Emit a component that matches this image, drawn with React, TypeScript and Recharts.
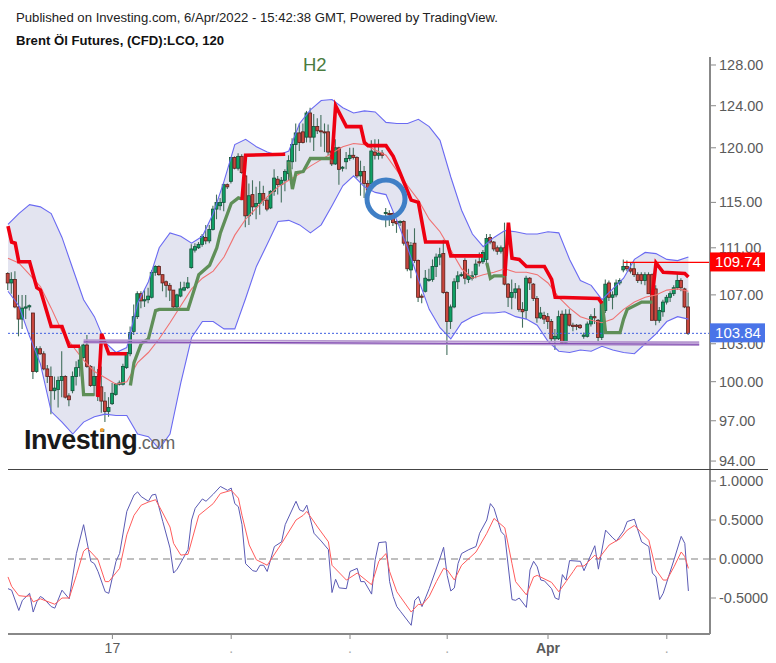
import React from 'react'
import { ComposedChart, Bar, Line, Area, XAxis, YAxis, ReferenceLine, ReferenceDot } from 'recharts'

// ---- price panel: 2h candles ----
const opens: number[] = [
  108.8,108.0,108.3,106.0,105.0,105.9,106.0,105.5,100.8,102.6,102.2,101.0,100.4,99.3,99.4,100.1,100.4,98.9,99.3,100.4,
  101.1,101.9,102.9,101.2,99.7,100.4,99.6,98.5,97.7,98.3,99.0,99.8,99.8,101.1,102.2,104.0,105.2,107.1,106.5,106.6,
  106.8,108.9,109.4,108.7,108.1,107.8,107.4,106.0,106.9,107.4,107.6,109.3,110.8,111.0,111.3,111.9,111.6,112.6,114.4,114.7,
  115.0,116.6,116.9,119.1,118.1,119.2,117.4,113.8,115.7,114.6,114.9,115.8,115.2,114.5,116.0,117.1,116.6,117.0,117.6,118.7,
  120.3,121.4,121.5,121.0,123.3,121.0,122.0,121.6,121.5,121.5,119.7,118.5,120.0,118.1,118.7,119.0,119.3,119.1,117.4,117.8,
  116.7,116.7,119.6,119.3,119.5,114.0,114.0,114.0,113.3,113.2,113.3,111.5,109.1,111.4,109.9,106.9,107.3,108.3,108.3,109.4,
  110.2,110.5,107.2,104.8,106.0,108.1,108.7,109.9,108.3,108.4,108.7,109.8,109.8,110.0,111.9,111.5,111.0,110.7,111.0,107.9,
  106.8,107.2,107.5,105.8,105.7,108.4,107.9,106.7,105.1,105.3,105.2,104.8,103.4,103.4,105.4,103.1,105.4,104.5,104.5,104.5,
  103.6,103.6,104.6,105.2,104.9,103.5,105.7,108.0,106.8,107.0,108.0,109.1,109.4,109.2,109.2,108.7,108.7,108.2,108.7,108.7,
  107.5,104.9,105.6,106.4,106.8,107.1,107.6,108.2,107.5,106.0,
]
const highs: number[] = [
  108.9,108.9,109.0,107.0,107.0,107.0,106.2,105.5,102.8,102.8,102.4,101.3,101.2,100.4,100.4,102.4,100.5,99.1,100.8,101.6,
  102.3,103.0,103.7,101.3,101.2,101.0,101.2,99.2,98.8,99.9,99.9,100.1,101.4,102.3,104.4,106.2,107.3,107.3,107.4,107.6,
  109.1,109.5,109.5,108.7,108.2,108.0,107.4,107.1,108.1,108.1,108.5,111.3,111.4,111.5,112.2,113.0,113.0,114.7,115.7,115.4,
  116.7,116.7,119.1,119.2,119.5,119.4,117.5,116.7,117.0,116.4,116.9,116.5,115.4,116.1,118.0,117.4,117.3,118.0,119.3,120.9,
  122.3,122.3,122.3,123.5,123.8,123.2,122.8,123.1,122.3,122.2,119.9,120.8,120.1,118.3,119.6,120.0,120.0,119.2,118.8,118.3,
  117.0,120.7,120.8,120.8,119.8,114.5,114.3,114.1,113.4,113.4,113.4,112.6,111.5,112.7,110.0,107.1,109.1,109.2,110.0,110.5,
  111.0,111.7,107.3,106.2,108.4,109.0,108.9,110.1,109.2,109.0,110.0,110.6,110.8,112.2,112.2,111.6,111.2,111.2,113.2,108.0,
  108.3,108.0,107.8,106.4,108.6,108.5,108.0,106.9,106.0,105.6,105.5,105.0,104.2,105.7,105.7,105.8,105.8,104.7,104.6,104.6,
  103.9,104.8,105.4,105.9,105.0,106.5,108.3,108.2,107.3,108.3,108.4,110.0,109.9,109.7,109.7,108.9,108.9,108.9,108.9,108.8,
  107.8,106.0,106.6,107.0,107.3,107.8,108.8,108.4,107.6,107.2,
]
const lows: number[] = [
  107.4,107.1,105.9,103.6,104.2,105.0,105.7,100.2,100.7,102.1,100.9,99.9,97.5,98.6,98.0,98.8,98.7,98.1,99.1,99.7,
  100.4,101.8,101.1,99.6,98.9,98.5,97.6,96.9,97.3,98.2,98.9,99.7,99.7,101.0,102.0,103.7,105.0,105.9,106.0,106.3,
  106.7,108.6,108.6,107.3,106.8,106.5,105.9,105.9,106.8,107.3,107.5,109.2,110.6,110.9,111.1,111.3,111.4,112.5,113.5,114.3,
  114.2,116.2,116.7,118.0,117.9,117.6,112.8,113.0,113.9,113.5,113.9,114.7,114.2,114.4,115.6,115.7,115.0,116.0,117.0,118.0,
  118.7,119.7,120.4,120.5,120.5,119.7,121.3,120.1,119.6,119.3,118.3,118.4,116.6,117.8,118.0,118.8,118.9,117.2,115.6,115.4,
  114.9,116.1,118.9,118.9,119.0,112.8,112.9,112.9,112.3,112.9,111.2,109.0,108.4,109.7,106.4,106.3,107.2,108.1,108.1,108.5,
  109.5,107.1,102.1,104.2,105.9,107.5,108.5,107.9,108.0,108.2,108.4,109.4,109.6,109.7,111.3,110.7,110.4,110.5,107.8,106.0,
  105.8,106.7,105.6,104.3,105.0,107.4,106.5,104.7,105.0,104.6,104.2,103.2,102.5,103.3,103.0,103.0,104.4,104.0,104.1,104.2,
  103.4,103.5,104.4,104.6,103.2,103.3,105.5,106.5,105.8,106.8,107.8,108.9,109.0,108.8,108.5,108.0,107.9,107.8,107.8,107.0,
  104.5,104.7,105.2,106.2,106.4,106.9,107.4,107.3,105.9,103.7,
]
const closes: number[] = [
  108.0,108.3,106.0,105.0,105.9,106.0,106.1,100.8,102.6,102.2,101.0,100.4,99.3,99.5,100.1,100.4,98.8,98.6,100.4,101.1,
  101.7,102.9,101.2,99.7,100.4,98.9,98.5,97.7,98.0,99.1,99.8,99.9,101.2,102.3,103.9,105.2,107.1,106.5,106.6,106.9,
  108.9,109.4,108.7,108.0,107.8,107.4,106.0,107.0,107.5,107.6,108.0,110.9,111.1,111.3,112.0,111.6,112.6,114.4,115.0,115.0,
  116.6,116.4,119.1,118.1,119.2,117.7,113.8,115.6,114.6,114.9,115.8,115.2,114.4,116.0,117.2,116.6,117.0,117.8,118.8,120.3,
  121.4,120.5,120.5,123.3,121.0,122.0,121.6,121.5,121.4,119.6,118.5,120.0,118.0,118.2,119.0,119.3,119.1,117.4,117.8,116.7,
  116.1,119.7,119.3,119.5,119.3,114.1,113.9,113.2,113.1,113.3,111.4,109.2,111.2,109.9,106.8,106.8,108.4,108.3,109.4,110.2,
  110.4,107.2,104.8,106.0,108.1,108.6,108.7,108.4,108.6,108.6,109.6,109.7,110.6,111.8,111.5,110.9,110.7,111.0,107.9,106.8,
  107.2,107.5,105.8,105.6,108.4,108.0,106.7,105.1,105.5,105.0,104.8,103.4,103.6,105.2,103.1,105.4,104.5,104.4,104.4,104.3,
  103.7,104.6,105.2,105.1,103.5,106.3,107.9,106.8,107.0,108.0,108.2,109.4,109.2,109.0,108.7,108.2,108.2,108.7,107.1,104.9,
  104.9,105.7,106.4,106.8,107.1,107.6,108.2,107.6,106.0,103.84,
]
const candles = opens.map((open, i) => ({ i, open, high: highs[i], low: lows[i], close: closes[i] }))

// Bollinger bands, one reading every third candle
const bandStep = 3
const upperBand: number[] = [
  113.05,114.0,114.8,114.6,114.0,111.9,109.2,106.6,105.2,103.1,102.3,102.7,106.3,108.1,111.0,112.3,112.0,111.4,112.0,114.0,116.9,
  120.3,120.8,120.1,119.6,119.3,119.7,122.3,123.6,124.5,124.6,123.8,123.3,123.5,123.4,122.4,122.3,122.3,122.7,122.0,120.7,117.3,114.3,
  112.2,111.1,111.9,112.5,112.4,112.2,112.2,112.4,112.3,110.0,108.2,107.8,106.6,107.5,108.4,110.0,110.6,110.5,110.0,109.9,110.2,
]
const lowerBand: number[] = [
  107.3,106.1,103.6,101.4,97.7,96.9,96.0,96.9,97.3,97.5,97.4,97.4,96.0,95.8,94.9,96.0,99.9,103.5,104.8,104.8,104.2,
  104.2,106.7,109.4,111.3,113.3,113.4,113.0,112.3,113.0,114.7,116.5,117.4,116.4,115.9,115.7,113.4,111.0,108.3,105.8,104.3,103.4,104.7,
  105.2,105.5,105.5,105.6,105.2,105.0,104.5,103.2,102.4,102.3,102.5,102.4,102.8,102.5,102.3,102.2,103.0,103.8,104.8,105.2,105.0,
]
const midBand: number[] = [
  110.1,109.7,108.7,107.7,105.9,104.0,102.8,101.7,100.8,100.3,99.8,100.0,101.5,102.3,103.4,104.7,106.1,107.5,108.4,109.0,110.2,
  112.1,113.5,114.5,115.5,116.4,117.0,117.6,118.3,118.9,119.5,120.1,120.4,120.3,119.8,119.3,117.9,116.5,115.2,113.5,112.4,110.8,109.2,
  108.4,108.7,108.9,109.2,108.9,108.9,108.7,108.0,106.8,105.9,105.2,104.9,104.7,105.0,105.8,106.4,106.8,107.0,107.4,107.5,107.3,
]
const bandRows = upperBand.map((upper, k) => ({ i: k * bandStep, upper, lower: lowerBand[k], mid: midBand[k] }))

// trend stop, [candle, price]: red while falling, green while rising
const redStops: number[][][] = [
  [[0,112.9],[1,111.5],[2,111.4],[3,109.8],[6,109.8],[8,107.6],[9,107.4],[12,104.4],[15,104.4],[17,102.8],[20,102.8]],
  [[25,98.8],[26,103.8],[28,102.2],[33,102.2]],
  [[65,115.2],[66,119.3],[77,119.4]],
  [[90,118.9],[91,124.0],[94,122.0],[98,122.0],[99,120.5],[100,120.2],[105,120.2],[107,119.2],[109,117.6],[112,115.2],[114,115.0],[116,111.5],[122,111.5],[123,110.3],[132,110.3]],
  [[138,108.6],[139,113.2],[140,110.1],[142,110.0],[144,109.4],[149,109.4],[151,108.3],[152,106.8],[164,106.7],[165,106.3]],
  [[179,107.0],[180,109.7],[182,108.9],[188,108.8],[189,108.5]],
]
const greenStops: number[][][] = [
  [[20,102.8],[21,99.0],[24,99.0]],
  [[34,99.7],[35,101.5],[37,103.0],[39,103.4],[41,105.7],[42,105.8],[50,105.8],[52,107.7],[53,108.7],[56,109.5],[58,111.0],[59,112.3],[62,114.9],[64,115.4],[65,115.3]],
  [[78,118.7],[79,116.2],[80,117.7],[82,117.8],[84,119.0],[90,119.0]],
  [[133,109.7],[134,108.4],[135,108.6],[138,108.6]],
  [[165,106.5],[166,103.9],[170,103.9],[171,105.0],[172,105.8],[176,106.4],[179,106.4]],
]

const priceTicks = [128, 124, 120, 115, 111, 107, 103, 100, 97, 94]
const lastPrice = 103.84
const stopPrice = 109.74

// ---- oscillator panel, [candle, value] ----
const oscFast: number[][] = [
  [0,-0.38],[1,-0.40],[3,-0.66],[4,-0.53],[6,-0.44],[7,-0.68],[8,-0.55],[9,-0.48],[10,-0.51],[12,-0.61],[13,-0.63],[15,-0.40],[17,-0.51],[19,0.07],[21,0.44],[23,-0.03],[24,-0.06],[25,-0.16],[27,-0.42],[28,-0.44],
  [30,-0.03],[31,0.07],[33,0.61],[35,0.82],[36,0.86],[37,0.80],[39,0.74],[40,0.82],[41,0.83],[43,0.48],[45,0.14],[46,-0.18],[47,-0.13],[50,0.12],[51,0.50],[52,0.65],[54,0.77],[55,0.74],[57,0.83],[59,0.93],
  [61,0.88],[62,0.91],[63,0.71],[64,0.67],[65,0.44],[66,-0.06],[68,-0.15],[69,-0.16],[70,-0.08],[71,-0.08],[72,-0.16],[74,0.16],[76,0.22],[77,0.44],[80,0.74],[81,0.63],[82,0.61],[83,0.69],[85,0.33],[87,0.23],
  [89,0.12],[90,-0.43],[91,-0.26],[92,-0.37],[94,-0.38],[95,-0.16],[97,-0.12],[98,-0.29],[99,-0.29],[101,-0.45],[102,-0.01],[103,0.21],[105,0.22],[106,-0.29],[107,-0.48],[108,-0.61],[109,-0.67],[112,-0.85],[113,-0.53],[114,-0.48],
  [115,-0.61],[117,-0.38],[120,0.01],[121,0.15],[122,-0.21],[123,-0.41],[124,-0.37],[125,-0.06],[126,0.07],[128,0.12],[130,0.16],[131,0.33],[133,0.50],[134,0.71],[135,0.65],[137,0.35],[138,0.30],[140,-0.52],[141,-0.53],[142,-0.50],
  [144,-0.62],[145,-0.14],[146,-0.03],[147,-0.10],[148,-0.27],[149,-0.28],[151,-0.38],[152,-0.50],[153,-0.52],[154,-0.20],[155,-0.27],[156,-0.02],[159,-0.03],[160,-0.15],[163,0.17],[164,-0.13],[166,0.37],[168,0.27],[169,0.23],[171,0.36],
  [172,0.48],[174,0.51],[176,0.22],[178,0.16],[179,-0.18],[180,-0.23],[181,-0.52],[182,-0.44],[185,-0.01],[187,0.29],[188,0.20],[189,-0.41],
]
const oscSlow: number[][] = [
  [0,-0.23],[1,-0.35],[3,-0.47],[5,-0.48],[6,-0.47],[7,-0.55],[9,-0.51],[13,-0.58],[15,-0.50],[17,-0.50],[19,-0.21],[21,0.10],[22,0.14],[25,-0.01],[27,-0.29],[28,-0.29],[31,-0.12],[33,0.31],[35,0.56],[37,0.69],
  [39,0.73],[41,0.76],[43,0.59],[45,0.41],[46,0.20],[48,0.05],[50,0.06],[53,0.56],[57,0.71],[59,0.84],[62,0.88],[64,0.78],[65,0.56],[67,0.18],[69,-0.01],[72,-0.08],[76,0.20],[80,0.50],[82,0.56],[83,0.61],
  [86,0.41],[89,0.22],[90,-0.08],[94,-0.27],[97,-0.18],[101,-0.33],[103,-0.03],[105,0.07],[106,-0.16],[108,-0.42],[112,-0.68],[114,-0.58],[115,-0.59],[117,-0.48],[119,-0.29],[121,-0.12],[122,-0.14],[124,-0.27],[126,-0.08],[130,0.09],
  [133,0.33],[135,0.52],[138,0.40],[140,-0.06],[141,-0.29],[144,-0.46],[146,-0.23],[147,-0.21],[151,-0.30],[153,-0.42],[155,-0.29],[157,-0.16],[158,-0.09],[160,-0.09],[163,0.05],[164,0.00],[167,0.18],[170,0.26],[172,0.37],[174,0.43],
  [178,0.24],[180,-0.14],[182,-0.27],[183,-0.27],[185,-0.10],[187,0.09],[188,0.03],[189,-0.12],
]
const oscTicks = [1, 0.5, 0, -0.5]

const timeTicks = [29, 62, 95, 122, 150, 183]
const timeLabels = ['17', '.', '.', '.', 'Apr', '.']

const FONT = '"Liberation Sans", Arial, sans-serif'
const AXIS = '#888888'
const LABEL = '#5a5a5a'
const xDomain: [number, number] = [0, 195]

const toRows = (pts: number[][]) => pts.map(([i, v]) => ({ i, v }))

const Candle = (props: any) => {
  const { x, y, width, height, payload } = props
  const { open, high, low, close } = payload
  // wick comes from the bar, body is placed along it on the same log scale
  const yOf = (v: number) => y + (height * (Math.log(high) - Math.log(v))) / (Math.log(high) - Math.log(low))
  const up = close >= open
  const top = yOf(Math.max(open, close))
  const bot = yOf(Math.min(open, close))
  return (
    <g>
      <line x1={x + width / 2} x2={x + width / 2} y1={y} y2={y + height} stroke="#44705f" strokeWidth={1.1} />
      <rect x={x} y={top} width={width} height={Math.max(bot - top, 1)} fill={up ? '#0fa064' : '#c8463e'} stroke={up ? '#14503a' : '#5a1f1b'} strokeWidth={0.8} />
    </g>
  )
}

const PriceTick = (props: any) => {
  const { x, y, payload } = props
  const v = payload.value
  if (v === lastPrice || v === stopPrice) {
    return (
      <g>
        <rect x={x - 8} y={y - 10} width={55} height={19} fill={v === stopPrice ? '#ff0000' : '#4a74e8'} />
        <text x={x + 20} y={y + 5} textAnchor="middle" fontFamily={FONT} fontSize={15} fill="#ffffff">{v.toFixed(2)}</text>
      </g>
    )
  }
  return <text x={x + 1} y={y + 5} fontFamily={FONT} fontSize={14.5} fill={LABEL}>{v.toFixed(2)}</text>
}

const OscTick = (props: any) => {
  const { x, y, payload } = props
  return <text x={x + 1} y={y + 5} fontFamily={FONT} fontSize={14.5} fill={LABEL}>{payload.value.toFixed(4)}</text>
}

const TimeTick = (props: any) => {
  const { x, y, payload, index } = props
  const label = timeLabels[index]
  return (
    <text x={x} y={y + 12} textAnchor="middle" fontFamily={FONT} fontSize={14} fontWeight={label === 'Apr' ? 700 : 400} fill={label === '.' ? '#aaaaaa' : LABEL}>
      {label}
    </text>
  )
}

const App: React.FC = () => {
  return (
    <div style={{ position: 'absolute', left: 0, top: 0, width: 776, height: 663, background: '#fff', overflow: 'hidden', fontFamily: FONT }}>
      <div style={{ position: 'absolute', left: 16, top: 10, fontSize: 13.15, color: '#222', whiteSpace: 'nowrap' }}>
        Published on Investing.com, 6/Apr/2022 - 15:42:38 GMT, Powered by TradingView.
      </div>
      <div style={{ position: 'absolute', left: 16, top: 33, fontSize: 13.15, fontWeight: 700, color: '#111', whiteSpace: 'nowrap' }}>
        Brent Öl Futures, (CFD):LCO, 120
      </div>

      <div style={{ position: 'absolute', left: 0, top: 0 }}>
        <ComposedChart width={776} height={470} data={candles} margin={{ top: 57, right: 0, bottom: 1, left: 8 }}>
          <XAxis dataKey="i" type="number" domain={xDomain} hide />
          <YAxis
            orientation="right"
            width={66}
            scale="log"
            domain={[93.42, 128.8]}
            allowDataOverflow
            ticks={[...priceTicks, stopPrice, lastPrice]}
            interval={0}
            tick={<PriceTick />}
            tickSize={6}
            tickLine={{ stroke: AXIS }}
            axisLine={{ stroke: AXIS, strokeWidth: 2 }}
          />
          <Area data={bandRows} dataKey={(d: any) => [d.lower, d.upper]} type="linear" fill="#e3e4f0" fillOpacity={1} stroke="none" isAnimationActive={false} dot={false} activeDot={false} />
          <Line data={bandRows} dataKey="upper" type="linear" stroke="#6a6af2" strokeWidth={1.1} dot={false} activeDot={false} isAnimationActive={false} />
          <Line data={bandRows} dataKey="lower" type="linear" stroke="#6a6af2" strokeWidth={1.1} dot={false} activeDot={false} isAnimationActive={false} />
          <ReferenceLine y={lastPrice} stroke="#3f5fe0" strokeWidth={1} strokeDasharray="2 2" />
          <Bar dataKey={(d: any) => [d.low, d.high]} barSize={3} shape={<Candle />} isAnimationActive={false} />
          <Line data={bandRows} dataKey="mid" type="linear" stroke="#f07272" strokeWidth={1.1} dot={false} activeDot={false} isAnimationActive={false} />
          {greenStops.map((seg, k) => (
            <Line key={'g' + k} data={toRows(seg)} dataKey="v" type="linear" stroke="#5f8f58" strokeWidth={3.3} dot={false} activeDot={false} isAnimationActive={false} />
          ))}
          {redStops.map((seg, k) => (
            <Line key={'r' + k} data={toRows(seg)} dataKey="v" type="linear" stroke="#ee0011" strokeWidth={3.6} dot={false} activeDot={false} isAnimationActive={false} />
          ))}
          <ReferenceLine segment={[{ x: 21, y: 103.3 }, { x: 192, y: 103.12 }]} stroke="#b79ad0" strokeWidth={1.8} ifOverflow="visible" />
          <ReferenceLine segment={[{ x: 21, y: 103.1 }, { x: 192, y: 102.9 }]} stroke="#b79ad0" strokeWidth={1.8} ifOverflow="visible" />
          <ReferenceLine segment={[{ x: 21, y: 103.15 }, { x: 192, y: 102.97 }]} stroke="#7a3fae" strokeWidth={1} ifOverflow="visible" />
          <ReferenceLine segment={[{ x: 171, y: stopPrice }, { x: 195, y: stopPrice }]} stroke="#ff0000" strokeWidth={1.2} ifOverflow="visible" />
          <ReferenceDot x={105} y={115.3} r={19} fill="none" stroke="#3f7fc6" strokeWidth={5} ifOverflow="visible" />
        </ComposedChart>
      </div>

      <div style={{ position: 'absolute', left: 303, top: 54, fontSize: 18.5, color: '#4a7c3f' }}>H2</div>

      <div style={{ position: 'absolute', left: 24, top: 425, fontSize: 27, fontWeight: 700, color: '#1a1a1a', letterSpacing: -0.6, whiteSpace: 'nowrap' }}>
        Investing<span style={{ fontSize: 18, fontWeight: 400, color: '#666', letterSpacing: -0.3 }}>.com</span>
      </div>
      <div style={{ position: 'absolute', left: 100, top: 428, width: 4, height: 4, borderRadius: 2, background: '#f0a030' }} />

      <div style={{ position: 'absolute', left: 8, top: 469, width: 760, height: 1, background: '#444' }} />

      <div style={{ position: 'absolute', left: 0, top: 470 }}>
        <ComposedChart width={776} height={193} margin={{ top: 0, right: 0, bottom: 0, left: 8 }}>
          <XAxis
            dataKey="i"
            type="number"
            domain={xDomain}
            ticks={timeTicks}
            interval={0}
            height={29}
            tick={<TimeTick />}
            tickSize={5}
            tickLine={{ stroke: AXIS }}
            axisLine={{ stroke: AXIS, strokeWidth: 2 }}
          />
          <YAxis
            orientation="right"
            width={66}
            domain={[-0.9615, 1.141]}
            allowDataOverflow
            ticks={oscTicks}
            interval={0}
            tick={<OscTick />}
            tickSize={6}
            tickLine={{ stroke: AXIS }}
            axisLine={{ stroke: AXIS, strokeWidth: 2 }}
          />
          <ReferenceLine y={0} stroke="#808080" strokeWidth={1.2} strokeDasharray="7 5" />
          <Line data={toRows(oscFast)} dataKey="v" type="linear" stroke="#5a5ab4" strokeWidth={1} dot={false} activeDot={false} isAnimationActive={false} />
          <Line data={toRows(oscSlow)} dataKey="v" type="linear" stroke="#ff5c5c" strokeWidth={1} dot={false} activeDot={false} isAnimationActive={false} />
        </ComposedChart>
      </div>
    </div>
  )
}

export default App
